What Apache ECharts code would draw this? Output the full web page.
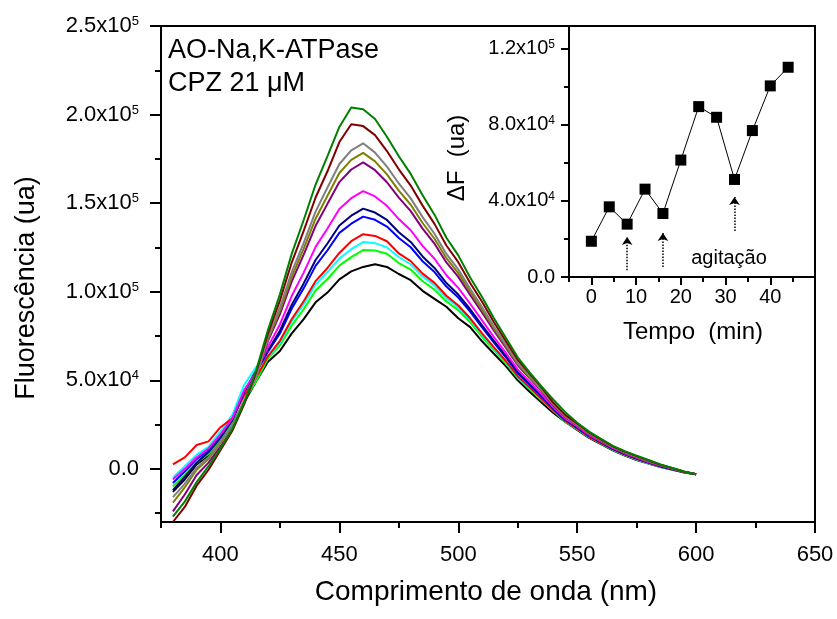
<!DOCTYPE html>
<html><head><meta charset="utf-8">
<script src="https://cdn.jsdelivr.net/npm/echarts@6/dist/echarts.min.js"></script>
<style>html,body{margin:0;padding:0;background:#fff}#c{width:837px;height:619px}</style>
</head><body><div id="c"></div>
<script>
const wavelength = [380,385,390,395,400,405,410,415,420,425,430,435,440,445,450,455,460,465,470,475,480,485,490,495,500,505,510,515,520,525,530,535,540,545,550,555,560,565,570,575,580,585,590,595,600];
const fBlack   = [-13000,-6000,2500,7500,15500,24500,37500,49500,60500,66500,76500,84500,94000,99500,107000,111500,114000,115500,114000,110000,106500,100500,96000,91500,85000,80000,72000,65000,58000,50000,43500,37500,31500,26500,22000,17500,14000,10500,7500,5000,3000,1000,-500,-2000,-3000];
const fLime    = [-10000,-3500,3500,8500,16500,25500,38500,49500,62300,69700,81000,90100,100700,107200,114700,119500,123500,123300,121400,116200,112500,105900,101200,94500,89500,82800,74500,67000,59600,51300,45100,38900,32600,26500,22400,17900,14300,10800,7800,5300,3200,1200,-400,-2000,-3000];
const fCyan    = [-5000,1500,8000,12500,21000,30500,47500,57500,63200,71300,83300,92900,104000,111100,118700,124000,128000,127400,125000,119600,115500,108600,103600,96500,91200,84200,75800,68000,60400,52000,45700,39400,32900,26800,22600,18000,14500,10900,7900,5400,3300,1200,-300,-1900,-3000];
const fRed     = [2500,6500,13500,15500,23500,28500,41500,51500,63700,72300,84600,94600,106000,113400,121900,128500,132500,131500,128500,121600,117300,110200,105000,97700,92200,85000,76500,68600,60900,52300,46000,39600,33100,26900,22700,18100,14500,11000,8000,5500,3400,1300,-300,-1900,-3000];
const fBlue    = [-8000,-1500,5500,10500,18500,27500,43500,54500,66100,76400,90500,101900,114600,123400,133200,138400,142400,140600,136800,130300,125100,117200,111100,102900,96700,88700,79800,71200,63000,54000,47400,40800,33900,27600,23200,18600,14900,11300,8300,5800,3600,1500,-200,-1800,-3000];
const fNavy    = [-12000,-4500,3500,9500,17500,27500,43500,55500,67000,78000,92700,104700,117900,127200,137400,142900,146900,144700,140500,133600,128100,119900,113400,104900,98400,90100,81000,72200,63800,54700,48000,41200,34200,27800,23400,18800,15100,11400,8400,5900,3700,1500,-100,-1800,-3000];
const fMagenta = [-6000,0,6500,11500,19500,28500,44500,54500,69000,81500,97700,110800,125300,135700,146700,152800,156800,153800,148500,141000,134700,125900,118600,109300,102200,93200,83800,74400,65500,56100,49200,42200,34800,28400,23900,19100,15400,11700,8700,6200,3900,1700,0,-1800,-3000];
const fPurple  = [-24000,-14500,-3500,3500,12500,22500,37500,52500,72200,87300,105800,120900,137200,149600,161900,169000,173000,168600,161800,153100,145500,135600,127100,116500,108400,98200,88300,78000,68400,58500,51200,43900,35900,29300,24600,19800,16000,12100,9100,6600,4300,2000,200,-1700,-3000];
const fOlive   = [-19000,-10500,-500,5500,14500,24500,38500,52500,73300,89200,108500,124300,141200,154200,167000,174400,178400,173600,166200,157100,149100,138800,129900,118900,110500,99900,89800,79200,69400,59200,51800,44400,36300,29600,24800,20000,16100,12300,9300,6800,4400,2100,200,-1600,-3000];
const fGray    = [-16000,-8500,500,6500,15500,24500,38500,51500,74400,91100,111200,127600,145200,158800,172100,179800,183800,178500,170600,161100,152700,142100,132700,121300,112600,101600,91300,80400,70300,60000,52500,44900,36600,29900,25100,20200,16300,12400,9400,6900,4500,2200,300,-1600,-3000];
const fMaroon  = [-30000,-21500,-9500,-500,10500,21500,36500,54500,76500,95000,116600,134300,153200,168000,184500,194500,193500,188400,179400,169100,159900,148600,138300,126100,116700,104900,94300,82800,72200,61600,53800,46000,37300,30500,25600,20600,16700,12700,9700,7200,4800,2300,400,-1600,-3000];
const fGreen   = [-27000,-18500,-7500,1500,11500,22500,37500,55500,78500,98500,121500,140500,160500,176500,193000,204000,203000,197500,187500,176500,166500,154500,143500,130500,120500,108000,97000,85000,74000,63000,54500,46500,39000,32000,26000,21000,17000,13000,10000,7500,5000,2500,500,-1500,-3000];

const curveColors = ['#000000','#00ff00','#00ffff','#ff0000','#0000ff','#000080','#ff00ff','#800080','#808000','#808080','#800000','#008000'];
const curves = [fBlack,fLime,fCyan,fRed,fBlue,fNavy,fMagenta,fPurple,fOlive,fGray,fMaroon,fGreen];

const xMajor = [400,450,500,550,600,650];
const xMinor = [375,425,475,525,575,625];
const yMajor = [0,50000,100000,150000,200000,250000];
const yMinor = [-25000,25000,75000,125000,175000,225000];

const tempo  = [0,4,8,12,16,20,24,28,32,36,40,44];
const deltaF = [18800,36900,27800,46200,33400,61500,89600,84000,51300,77000,100500,110300];
const insetXMajor = [0,10,20,30,40];
const insetXMinor = [-5,5,15,25,35,45];
const insetYMajor = [0,40000,80000,120000];
const insetYMinor = [20000,60000,100000];
const arrows = [[8,3500,21000],[16,5300,23200],[32,24200,42100]];

const FONT = 'Liberation Sans, Arial, sans-serif';

function sci(v){
  if (v === 0) return '{m|0.0}';
  const e = Math.floor(Math.log10(Math.abs(v)) + 1e-9);
  const m = v / Math.pow(10, e);
  return '{m|' + m.toFixed(1) + 'x10}{e|' + e + '}';
}

const chart = echarts.init(document.getElementById('c'), null, {renderer:'canvas'});

const mainSeries = curves.map((arr, k) => ({
  type: 'line', xAxisIndex: 0, yAxisIndex: 0,
  data: wavelength.map((w, i) => [w, arr[i]]),
  showSymbol: false, symbol: 'none',
  lineStyle: {color: curveColors[k], width: 2},
  itemStyle: {color: curveColors[k]},
  clip: true, silent: true, z: 2 + k
}));

function axisBase(showLine){
  return {type:'value', splitLine:{show:false}, axisLine:{show:showLine, onZero:false, lineStyle:{color:'#000', width:2}}};
}

const option = {
  animation: false,
  backgroundColor: '#fff',
  grid: [
    {left: 161, right: 22, top: 26, bottom: 97, show: true, borderColor: '#000', borderWidth: 2, backgroundColor: 'transparent'},
    {left: 569, right: 22, top: 26, bottom: 342, show: true, borderColor: '#000', borderWidth: 2, backgroundColor: 'transparent'}
  ],
  xAxis: [
    Object.assign(axisBase(true), {gridIndex:0, min:375, max:650, position:'bottom',
      axisTick:{show:true, inside:false, length:11, lineStyle:{width:2,color:'#000'}, customValues:xMajor},
      axisLabel:{show:true, customValues:xMajor, fontSize:22, fontFamily:FONT, color:'#000', margin:22}}),
    Object.assign(axisBase(false), {gridIndex:0, min:375, max:650, position:'bottom',
      axisTick:{show:true, inside:false, length:6, lineStyle:{width:2,color:'#000'}, customValues:xMinor},
      axisLabel:{show:false, customValues:xMinor}}),
    Object.assign(axisBase(true), {gridIndex:1, min:-5, max:50, position:'bottom',
      axisTick:{show:true, inside:false, length:8, lineStyle:{width:2,color:'#000'}, customValues:insetXMajor},
      axisLabel:{show:true, customValues:insetXMajor, fontSize:20, fontFamily:FONT, color:'#000', margin:10}}),
    Object.assign(axisBase(false), {gridIndex:1, min:-5, max:50, position:'bottom',
      axisTick:{show:true, inside:false, length:5, lineStyle:{width:2,color:'#000'}, customValues:insetXMinor},
      axisLabel:{show:false, customValues:insetXMinor}})
  ],
  yAxis: [
    Object.assign(axisBase(true), {gridIndex:0, min:-30000, max:250000, position:'left',
      axisTick:{show:true, inside:false, length:11, lineStyle:{width:2,color:'#000'}, customValues:yMajor},
      axisLabel:{show:true, customValues:yMajor, margin:22, color:'#000', fontFamily:FONT, formatter: sci,
        rich:{m:{fontSize:22, fontFamily:FONT, color:'#000'}, e:{fontSize:13, fontFamily:FONT, color:'#000', verticalAlign:'top'}}}}),
    Object.assign(axisBase(false), {gridIndex:0, min:-30000, max:250000, position:'left',
      axisTick:{show:true, inside:false, length:6, lineStyle:{width:2,color:'#000'}, customValues:yMinor},
      axisLabel:{show:false, customValues:yMinor}}),
    Object.assign(axisBase(true), {gridIndex:1, min:0, max:132000, position:'left',
      axisTick:{show:true, inside:false, length:8, lineStyle:{width:2,color:'#000'}, customValues:insetYMajor},
      axisLabel:{show:true, customValues:insetYMajor, margin:14, color:'#000', fontFamily:FONT, formatter: sci,
        rich:{m:{fontSize:20, fontFamily:FONT, color:'#000'}, e:{fontSize:12, fontFamily:FONT, color:'#000', verticalAlign:'top'}}}}),
    Object.assign(axisBase(false), {gridIndex:1, min:0, max:132000, position:'left',
      axisTick:{show:true, inside:false, length:5, lineStyle:{width:2,color:'#000'}, customValues:insetYMinor},
      axisLabel:{show:false, customValues:insetYMinor}})
  ],
  series: mainSeries.concat([{
    type:'line', xAxisIndex:2, yAxisIndex:2,
    data: tempo.map((t,i)=>[t, deltaF[i]]),
    symbol:'rect', symbolSize:11, showSymbol:true,
    lineStyle:{color:'#000', width:1}, itemStyle:{color:'#000'}, silent:true, z:20,
    markLine:{
      silent:true, symbol:['none','arrow'], symbolSize:8, animation:false,
      label:{show:false},
      lineStyle:{type:'dotted', width:1.5, color:'#000'},
      emphasis:{disabled:true},
      data: arrows.map(a => [{coord:[a[0], a[1]]}, {coord:[a[0], a[2]]}])
    }
  }]),
  graphic: [
    {type:'text', left:168, top:37, style:{text:'AO-Na,K-ATPase', font:'27px '+FONT, fill:'#000'}},
    {type:'text', left:168, top:70, style:{text:'CPZ 21 \u03bcM', font:'27px '+FONT, fill:'#000'}},
    {type:'text', x:27, y:288, rotation:Math.PI/2, style:{text:'Fluorescência (ua)', font:'27px '+FONT, fill:'#000', align:'center', verticalAlign:'middle'}},
    {type:'text', x:486, y:592, style:{text:'Comprimento de onda (nm)', font:'28px '+FONT, fill:'#000', align:'center', verticalAlign:'middle'}},
    {type:'text', x:457, y:158, rotation:Math.PI/2, style:{text:'\u0394F  (ua)', font:'24px '+FONT, fill:'#000', align:'center', verticalAlign:'middle'}},
    {type:'text', x:693, y:332, style:{text:'Tempo  (min)', font:'24px '+FONT, fill:'#000', align:'center', verticalAlign:'middle'}},
    {type:'text', x:729, y:258, style:{text:'agitação', font:'20px '+FONT, fill:'#000', align:'center', verticalAlign:'middle'}}
  ]
};
chart.setOption(option);
</script>
</body></html>
